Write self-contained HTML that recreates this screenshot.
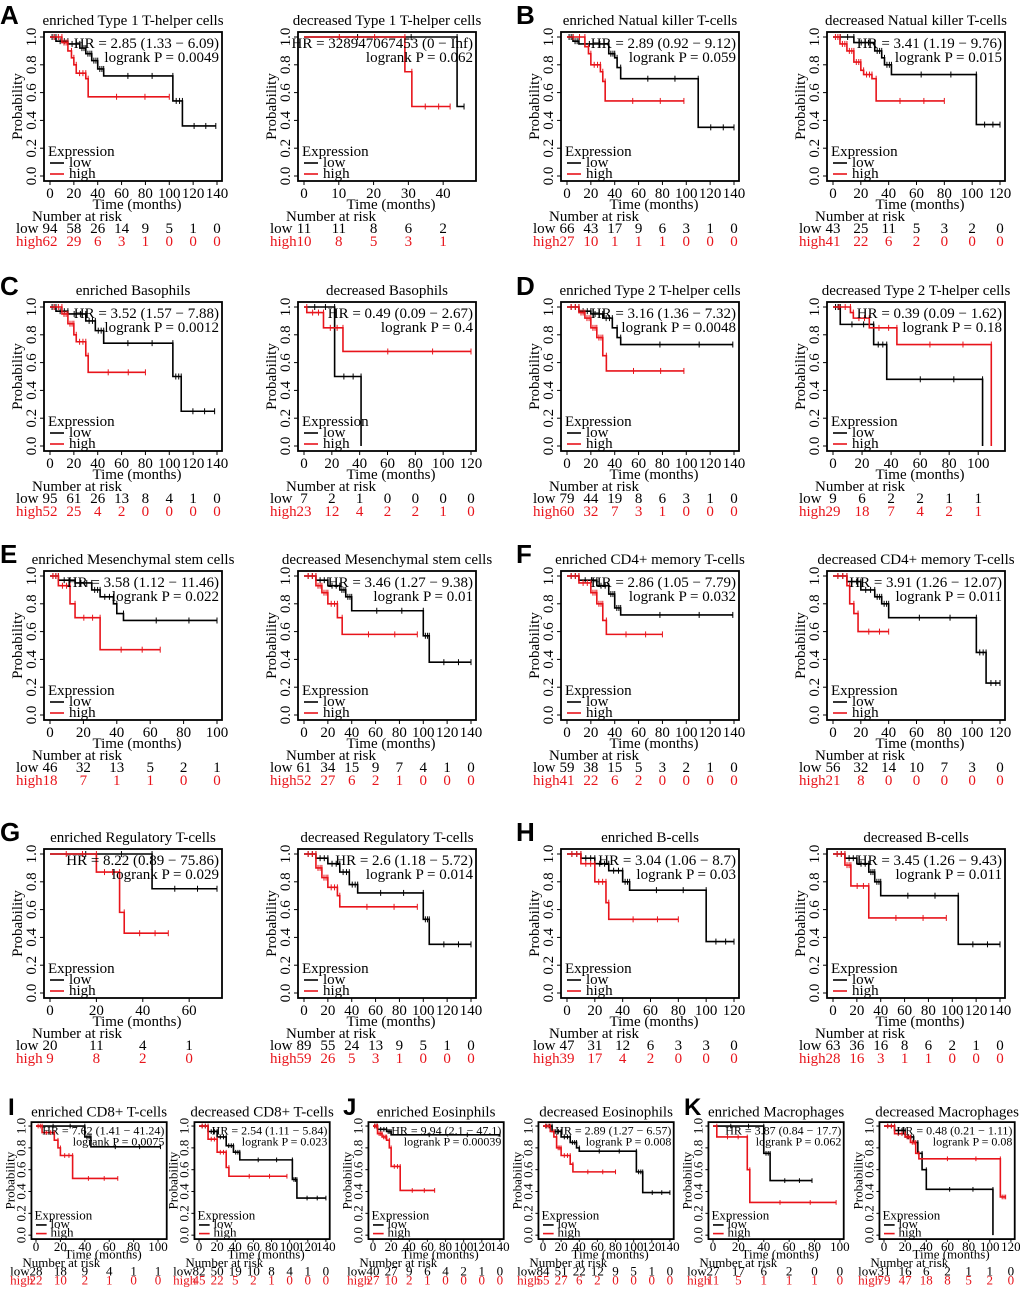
<!DOCTYPE html>
<html><head><meta charset="utf-8"><style>
html,body{margin:0;padding:0;background:#fff;}
svg{display:block;font-family:"Liberation Serif",serif;}
</style></head><body>
<svg id="fig" width="1020" height="1290" viewBox="0 0 1020 1290" xmlns="http://www.w3.org/2000/svg"></svg>
<script>
// ---- data: survival steps [time, probability], numbers at risk ----
const A1_low=[[0,1],[5,.97],[15,.95],[25,.92],[30,.88],[35,.83],[40,.77],[45,.72],[103,.54],[111,.36],[139,.36]];
const A1_high=[[0,1],[10,.96],[15,.9],[18,.85],[20,.8],[22,.74],[30,.7],[32,.57],[100,.57]];
const A1_riskLow=[94,58,26,14,9,5,1,0];const A1_riskHigh=[62,29,6,3,1,0,0,0];
const A2_low=[[0,1],[44,.5],[46,.5]];const A2_high=[[0,1],[29,.75],[31,.5],[42,.5]];
const A2_riskLow=[11,11,8,6,2];const A2_riskHigh=[10,8,5,3,1];
const B1_low=[[0,1],[5,.97],[10,.95],[35,.88],[40,.85],[42,.78],[45,.7],[110,.35],[140,.35]];
const B1_high=[[0,1],[15,.93],[18,.88],[20,.8],[28,.75],[30,.68],[32,.54],[98,.54]];
const B1_riskLow=[66,43,17,9,6,3,1,0];const B1_riskHigh=[27,10,1,1,1,0,0,0];
const B2_low=[[0,1],[15,.96],[30,.9],[35,.85],[37,.8],[42,.73],[103,.37],[120,.37]];
const B2_high=[[0,1],[5,.95],[10,.9],[15,.82],[20,.76],[22,.73],[28,.7],[31,.54],[80,.54]];
const B2_riskLow=[43,25,11,5,3,2,0];const B2_riskHigh=[41,22,6,2,0,0,0];
const C1_low=[[0,1],[5,.97],[15,.95],[30,.9],[38,.83],[45,.74],[103,.5],[110,.25],[138,.25]];
const C1_high=[[0,1],[10,.95],[15,.88],[20,.8],[22,.75],[30,.65],[32,.53],[80,.53]];
const C1_riskLow=[95,61,26,13,8,4,1,0];const C1_riskHigh=[52,25,4,2,0,0,0,0];
const C2_low=[[0,1],[22,.5],[41,0],[41,0]];const C2_high=[[0,1],[2,.96],[14,.85],[28,.68],[120,.68]];
const C2_riskLow=[7,2,1,0,0,0,0];const C2_riskHigh=[23,12,4,2,2,1,0];
const D1_low=[[0,1],[10,.97],[20,.95],[30,.92],[38,.85],[42,.78],[45,.73],[139,.73]];
const D1_high=[[0,1],[10,.96],[15,.92],[20,.85],[25,.78],[30,.65],[33,.54],[98,.54]];
const D1_riskLow=[79,44,19,8,6,3,1,0];const D1_riskHigh=[60,32,7,3,1,0,0,0];
const D2_low=[[0,1],[5,.875],[28,.73],[37,.48],[103,0],[103,0]];
const D2_high=[[0,1],[12,.96],[14,.92],[25,.85],[44,.73],[109,0],[109,0]];
const D2_riskLow=[9,6,2,2,1,1];const D2_riskHigh=[29,18,7,4,2,1];
const E1_low=[[0,1],[5,.97],[15,.95],[25,.9],[30,.85],[38,.8],[40,.73],[44,.68],[100,.68]];
const E1_high=[[0,1],[5,.93],[12,.8],[15,.7],[30,.47],[66,.47]];
const E1_riskLow=[46,32,13,5,2,1];const E1_riskHigh=[18,7,1,1,0,0];
const E2_low=[[0,1],[10,.97],[20,.93],[30,.9],[35,.85],[40,.75],[100,.57],[105,.38],[140,.38]];
const E2_high=[[0,1],[10,.93],[15,.88],[20,.8],[28,.7],[32,.58],[95,.58]];
const E2_riskLow=[61,34,15,9,7,4,1,0];const E2_riskHigh=[52,27,6,2,1,0,0,0];
const F1_low=[[0,1],[10,.97],[25,.93],[35,.87],[40,.77],[45,.72],[139,.72]];
const F1_high=[[0,1],[10,.95],[20,.88],[25,.8],[30,.68],[33,.58],[80,.58]];
const F1_riskLow=[59,38,15,5,3,2,1,0];const F1_riskHigh=[41,22,6,2,0,0,0,0];
const F2_low=[[0,1],[10,.96],[20,.9],[30,.85],[35,.8],[40,.7],[103,.45],[110,.23],[120,.23]];
const F2_high=[[0,1],[10,.93],[12,.8],[15,.73],[18,.6],[40,.6]];
const F2_riskLow=[56,32,14,10,7,3,0];const F2_riskHigh=[21,8,0,0,0,0,0];
const G1_low=[[0,1],[44,.75],[72,.75]];const G1_high=[[0,1],[20,.87],[30,.58],[32,.43],[51,.43]];
const G1_riskLow=[20,11,4,1];const G1_riskHigh=[9,8,2,0];
const G2_low=[[0,1],[10,.97],[20,.93],[30,.87],[38,.78],[45,.72],[100,.53],[105,.35],[140,.35]];
const G2_high=[[0,1],[10,.9],[15,.83],[20,.76],[28,.7],[30,.62],[95,.62]];
const G2_riskLow=[89,55,24,13,9,5,1,0];const G2_riskHigh=[59,26,5,3,1,0,0,0];
const H1_low=[[0,1],[10,.97],[20,.93],[30,.88],[40,.8],[45,.74],[100,.37],[120,.37]];
const H1_high=[[0,1],[10,.93],[20,.8],[28,.65],[30,.53],[80,.53]];
const H1_riskLow=[47,31,12,6,3,3,0];const H1_riskHigh=[39,17,4,2,0,0,0];
const H2_low=[[0,1],[10,.97],[20,.93],[30,.87],[35,.8],[40,.7],[105,.35],[140,.35]];
const H2_high=[[0,1],[10,.92],[15,.77],[30,.54],[95,.54]];
const H2_riskLow=[63,36,16,8,6,2,1,0];const H2_riskHigh=[28,16,3,1,1,0,0,0];
const I1_low=[[0,1],[40,.9],[45,.81],[102,.81]];
const I1_high=[[0,1],[5,.94],[15,.87],[18,.8],[20,.73],[30,.52],[67,.52]];
const I1_riskLow=[28,18,9,4,1,1];const I1_riskHigh=[22,10,2,1,0,0];
const I2_low=[[0,1],[10,.95],[20,.9],[30,.82],[38,.76],[45,.69],[103,.51],[108,.34],[140,.34]];
const I2_high=[[0,1],[10,.88],[20,.76],[30,.62],[33,.54],[97,.54]];
const I2_riskLow=[82,50,19,10,8,4,1,0];const I2_riskHigh=[45,22,5,2,1,0,0,0];
const J1_low=[[0,1],[5,.97],[15,.95],[20,.92],[140,.92]];
const J1_high=[[0,1],[5,.93],[10,.9],[15,.87],[18,.8],[20,.63],[30,.41],[68,.41]];
const J1_riskLow=[40,27,9,6,4,2,1,0];const J1_riskHigh=[27,10,2,1,0,0,0,0];
const J2_low=[[0,1],[10,.95],[20,.9],[30,.85],[37,.8],[40,.77],[103,.58],[110,.39],[140,.39]];
const J2_high=[[0,1],[8,.95],[12,.9],[15,.8],[20,.73],[30,.65],[33,.58],[80,.58]];
const J2_riskLow=[84,51,22,12,9,5,1,0];const J2_riskHigh=[55,27,6,2,0,0,0,0];
const K1_low=[[0,1],[40,.75],[45,.5],[78,.5]];
const K1_high=[[0,1],[3,.9],[27,.6],[29,.3],[97,.3]];
const K1_riskLow=[27,17,6,2,0,0];const K1_riskHigh=[11,5,1,1,1,0];
const K2_low=[[0,1],[10,.96],[20,.9],[28,.85],[32,.75],[36,.6],[40,.42],[103,0],[103,0]];
const K2_high=[[0,1],[10,.93],[20,.9],[25,.85],[30,.75],[33,.7],[110,.35],[115,.35]];
const K2_riskLow=[31,16,6,2,1,1,0];const K2_riskHigh=[79,47,18,8,5,2,0];

const NS="http://www.w3.org/2000/svg";
const svg=document.getElementById('fig');
function mk(tag,attrs,parent,txt){const e=document.createElementNS(NS,tag);for(const k in attrs)e.setAttribute(k,attrs[k]);if(txt!==undefined)e.textContent=txt;(parent||svg).appendChild(e);return e;}

function panel(c){
  const g=mk('g',{});
  
  
  const sx=c.sx,sy=c.sy,ty=c.ty,fs=c.fs,ox=c.ox,oy=c.oy;
  const L=ox+44*sx,R=ox+222*sx,T=oy+32*sy,B=oy+181*sy;
  const x0=ox+50*sx,x1=R-5*sx, y1=oy+37*sy,y0=oy+176*sy;
  const px=t=>x0+t/c.axisMax*(x1-x0);
  const py=s=>y0-(s)*(y0-y1);
  const t1=mk('text',{x:(L+R)/2,y:oy+25*sy,'font-size':c.tfs,'text-anchor':'middle'},g,c.title);
  
  
  const box=mk('rect',{x:L,y:T,width:R-L,height:B-T,fill:'none',stroke:'#000','stroke-width':1.8},g);
  
  
  [0,0.2,0.4,0.6,0.8,1.0].forEach(v=>{
    mk('line',{x1:L-4*sx,x2:L,y1:py(v),y2:py(v),stroke:'#000'},g);
    const yt=mk('text',{x:0,y:0,'font-size':fs,'text-anchor':'middle',transform:`translate(${L-8*sx},${py(v)}) rotate(-90)`},g,v.toFixed(1));
    
    
  });
  const yl=mk('text',{x:0,y:0,'font-size':fs,'text-anchor':'middle',transform:`translate(${ox+22*sx},${(T+B)/2}) rotate(-90)`},g,'Probability');
  
  
  c.ticks.forEach(v=>{
    mk('line',{x1:px(v),x2:px(v),y1:B,y2:B+4*ty,stroke:'#000'},g);
    const xt=mk('text',{x:px(v),y:B+17*ty,'font-size':fs,'text-anchor':'middle'},g,String(v));
    
    
  });
  const xl=mk('text',{x:(L+R)/2+4,y:B+28*ty,'font-size':fs,'text-anchor':'middle'},g,'Time (months)');
  
  
  [[c.low,'#000','low'],[c.high,'#e8141b','high']].forEach(([d,col,nm])=>{
    let p=`M${px(d[0][0])},${py(d[0][1])}`;
    for(let i=1;i<d.length;i++){p+=` H${px(d[i][0])} V${py(d[i][1])}`;}
    const path=mk('path',{d:p,fill:'none',stroke:col,'stroke-width':1.6},g);
    
    
    for(let i=1;i<d.length;i++){
      const ta=d[i-1][0],tb=d[i][0],s=d[i-1][1];
      if(s<=0)continue;
      [0.35,0.7,1].forEach(f=>{const t=ta+(tb-ta)*f; if(tb-ta>4||f===1){
        const m=mk('line',{x1:px(t),x2:px(t),y1:py(s)-3*sy,y2:py(s)+3*sy,stroke:col,'stroke-width':1},g);
        
        
      }});
    }
  });
  const hf=c.hfs;
  const hr=mk('text',{x:R-3*sx,y:oy+48*sy,'font-size':hf,'text-anchor':'end'},g,c.hr);
  
  
  const pv=mk('text',{x:R-3*sx,y:oy+62*sy,'font-size':hf,'text-anchor':'end'},g,'logrank P = '+c.p);
  
  
  const lf=c.lfs;
  const le=mk('text',{x:L+4*sx,y:oy+156*sy,'font-size':lf},g,'Expression');
  
  
  [['low','#000',163],['high','#e8141b',174]].forEach(([n,col,yy])=>{
    mk('line',{x1:L+6*sx,x2:L+20*sx,y1:oy+yy*sy,y2:oy+yy*sy,stroke:col,'stroke-width':1.6},g);
    const t=mk('text',{x:L+25*sx,y:oy+(yy+4)*sy,'font-size':lf},g,n);
    
    
  });
  const nr=mk('text',{x:ox+32*sx,y:B+40*ty,'font-size':fs},g,'Number at risk');
  
  
  const last=c.ticks[c.ticks.length-1];
  [[c.riskLow,'#000','low',52],[c.riskHigh,'#e8141b','high',65]].forEach(([arr,col,nm,dy])=>{
    const lab=mk('text',{x:ox+16*sx,y:B+dy*ty,'font-size':fs,fill:col},g,nm);
    
    
    arr.forEach((v,i)=>{
      const t=arr.length>1?i*last/(arr.length-1):0;
      const e=mk('text',{x:px(t),y:B+dy*ty,'font-size':fs,fill:col,'text-anchor':'middle'},g,String(v));
      
      
    });
  });
}
function letter(ch,x,y,s){const t=mk('text',{x:x,y:y,'font-size':s,'font-weight':'bold','font-family':'Liberation Sans, sans-serif'},svg,ch);
  
  }

const big={sx:1,sy:1,ty:1,fs:15,tfs:15,hfs:15,lfs:15};
const cols=[0,254,517,783], rows=[0,270,539,817];
const t140=[0,20,40,60,80,100,120,140], t120=[0,20,40,60,80,100,120], t100=[0,20,40,60,80,100];
const defs=[
 ['A1','enriched Type 1 T-helper cells','HR = 2.85 (1.33 − 6.09)','0.0049',140,t140,A1_low,A1_high,A1_riskLow,A1_riskHigh],
 ['A2','decreased Type 1 T-helper cells','HR = 328947067453 (0 − Inf)','0.062',48,[0,10,20,30,40],A2_low,A2_high,A2_riskLow,A2_riskHigh],
 ['B1','enriched Natual killer T-cells','HR = 2.89 (0.92 − 9.12)','0.059',140,t140,B1_low,B1_high,B1_riskLow,B1_riskHigh],
 ['B2','decreased Natual killer T-cells','HR = 3.41 (1.19 − 9.76)','0.015',120,t120,B2_low,B2_high,B2_riskLow,B2_riskHigh],
 ['C1','enriched Basophils','HR = 3.52 (1.57 − 7.88)','0.0012',140,t140,C1_low,C1_high,C1_riskLow,C1_riskHigh],
 ['C2','decreased Basophils','HR = 0.49 (0.09 − 2.67)','0.4',120,t120,C2_low,C2_high,C2_riskLow,C2_riskHigh],
 ['D1','enriched Type 2 T-helper cells','HR = 3.16 (1.36 − 7.32)','0.0048',140,t140,D1_low,D1_high,D1_riskLow,D1_riskHigh],
 ['D2','decreased Type 2 T-helper cells','HR = 0.39 (0.09 − 1.62)','0.18',115,t100,D2_low,D2_high,D2_riskLow,D2_riskHigh],
 ['E1','enriched Mesenchymal stem cells','HR = 3.58 (1.12 − 11.46)','0.022',100,t100,E1_low,E1_high,E1_riskLow,E1_riskHigh],
 ['E2','decreased Mesenchymal stem cells','HR = 3.46 (1.27 − 9.38)','0.01',140,t140,E2_low,E2_high,E2_riskLow,E2_riskHigh],
 ['F1','enriched CD4+ memory T-cells','HR = 2.86 (1.05 − 7.79)','0.032',140,t140,F1_low,F1_high,F1_riskLow,F1_riskHigh],
 ['F2','decreased CD4+ memory T-cells','HR = 3.91 (1.26 − 12.07)','0.011',120,t120,F2_low,F2_high,F2_riskLow,F2_riskHigh],
 ['G1','enriched Regulatory T-cells','HR = 8.22 (0.89 − 75.86)','0.029',72,[0,20,40,60],G1_low,G1_high,G1_riskLow,G1_riskHigh],
 ['G2','decreased Regulatory T-cells','HR = 2.6 (1.18 − 5.72)','0.014',140,t140,G2_low,G2_high,G2_riskLow,G2_riskHigh],
 ['H1','enriched B-cells','HR = 3.04 (1.06 − 8.7)','0.03',120,t120,H1_low,H1_high,H1_riskLow,H1_riskHigh],
 ['H2','decreased B-cells','HR = 3.45 (1.26 − 9.43)','0.011',140,t140,H2_low,H2_high,H2_riskLow,H2_riskHigh]
];
defs.forEach((d,i)=>{
  const r=Math.floor(i/4),cI=i%4;
  panel(Object.assign({},big,{name:'km-panel-'+d[0],ox:cols[cI],oy:rows[r],title:d[1],hr:d[2],p:d[3],axisMax:d[4],ticks:d[5],low:d[6],high:d[7],riskLow:d[8],riskHigh:d[9]}));
});
const small={sx:0.76,sy:0.785,ty:0.7,fs:13,tfs:15,hfs:12,lfs:13,oy:1097};
const sdefs=[
 ['I1',-2,'enriched CD8+ T-cells','HR = 7.62 (1.41 − 41.24)','0.0075',104,t100,I1_low,I1_high,I1_riskLow,I1_riskHigh],
 ['I2',161,'decreased CD8+ T-cells','HR = 2.54 (1.11 − 5.84)','0.023',140,t140,I2_low,I2_high,I2_riskLow,I2_riskHigh],
 ['J1',335,'enriched Eosinphils','HR = 9.94 (2.1 − 47.1)','0.00039',140,t140,J1_low,J1_high,J1_riskLow,J1_riskHigh],
 ['J2',505,'decreased Eosinophils','HR = 2.89 (1.27 − 6.57)','0.008',140,t140,J2_low,J2_high,J2_riskLow,J2_riskHigh],
 ['K1',675,'enriched Macrophages','HR = 3.87 (0.84 − 17.7)','0.062',100,t100,K1_low,K1_high,K1_riskLow,K1_riskHigh],
 ['K2',846,'decreased Macrophages','HR = 0.48 (0.21 − 1.11)','0.08',120,t120,K2_low,K2_high,K2_riskLow,K2_riskHigh]
];
sdefs.forEach(d=>{
  panel(Object.assign({},small,{name:'km-panel-'+d[0],ox:d[1],title:d[2],hr:d[3],p:d[4],axisMax:d[5],ticks:d[6],low:d[7],high:d[8],riskLow:d[9],riskHigh:d[10]}));
});
letter('A',0,24,26);letter('B',516,24,26);letter('C',0,295,26);letter('D',516,295,26);
letter('E',0,563,26);letter('F',516,563,26);letter('G',0,841,26);letter('H',516,841,26);
letter('I',8,1115,24);letter('J',343,1115,24);letter('K',684,1115,24);
</script>
</body></html>
